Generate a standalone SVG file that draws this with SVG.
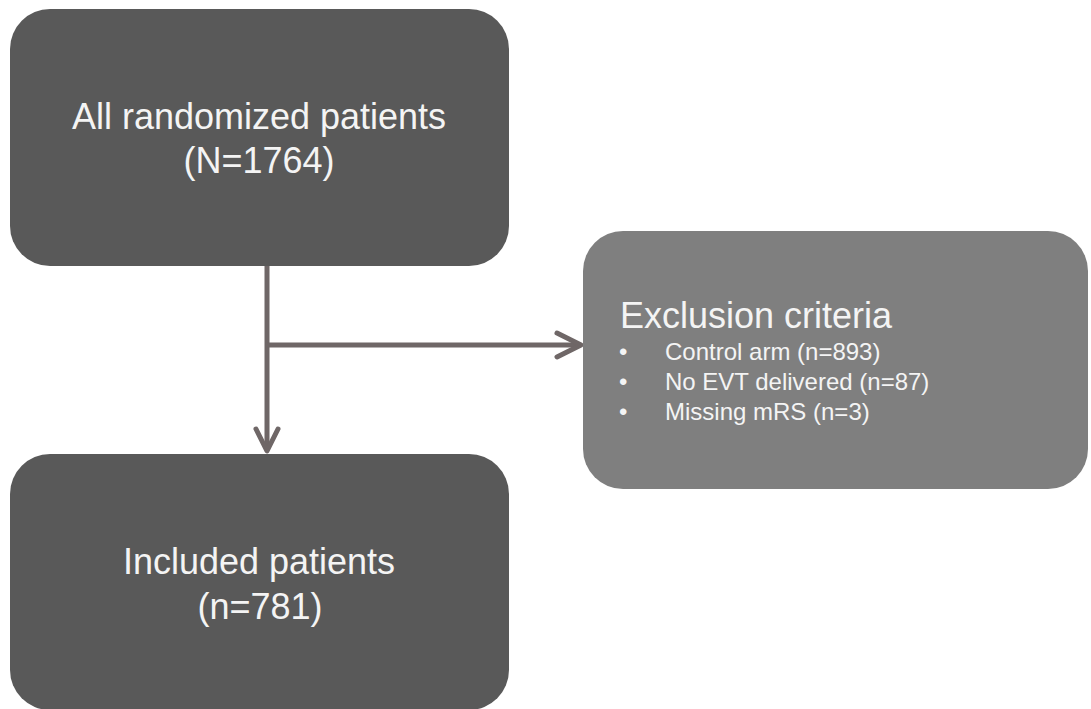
<svg xmlns="http://www.w3.org/2000/svg" width="1091" height="709" viewBox="0 0 1091 709">
<defs>
<style>
.dark{fill:#595959}
.light{fill:#7f7f7f}
.t{font-family:"Liberation Sans",Arial,sans-serif;fill:#f4f4f4}
.big{font-size:36px;text-anchor:middle}
.head{font-size:36px}
.item{font-size:24px}
.conn{stroke:#6f6767;stroke-width:5;fill:none;stroke-linecap:round;stroke-linejoin:round}
</style>
</defs>
<rect width="1091" height="709" fill="#ffffff"/>
<g id="connectors">
<line class="conn" x1="267" y1="266" x2="267" y2="450" style="stroke-linecap:butt"/>
<line class="conn" x1="267" y1="345" x2="581" y2="345" style="stroke-linecap:butt"/>
<polyline class="conn" points="557,333 581,345 557,357"/>
<polyline class="conn" points="256,429 267,451 278,429"/>
</g>
<g id="node-all">
<rect class="dark" x="10" y="9" width="499" height="257" rx="40" ry="40"/>
<text class="t big" x="259" y="129">All randomized patients</text>
<text class="t big" x="259" y="173">(N=1764)</text>
</g>
<g id="node-exclusion">
<rect class="light" x="583" y="231" width="505" height="258" rx="40" ry="40"/>
<text class="t head" x="620" y="328">Exclusion criteria</text>
<text class="t item" x="619" y="360">•</text>
<text class="t item" x="665" y="360">Control arm (n=893)</text>
<text class="t item" x="619" y="390">•</text>
<text class="t item" x="665" y="390">No EVT delivered (n=87)</text>
<text class="t item" x="619" y="420">•</text>
<text class="t item" x="665" y="420">Missing mRS (n=3)</text>
</g>
<g id="node-included">
<rect class="dark" x="10" y="454" width="499" height="256" rx="40" ry="40"/>
<text class="t big" x="259" y="574">Included patients</text>
<text class="t big" x="260" y="619">(n=781)</text>
</g>
</svg>
